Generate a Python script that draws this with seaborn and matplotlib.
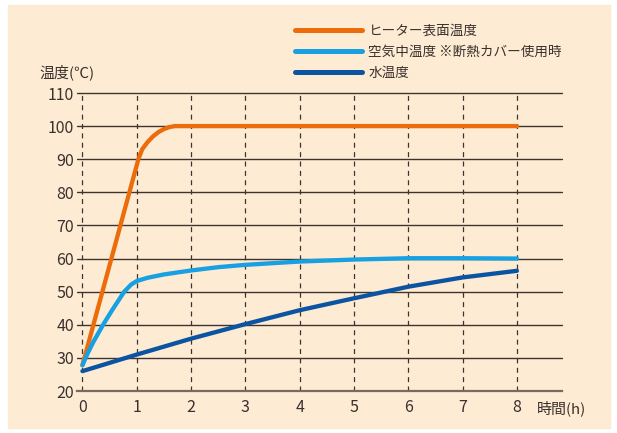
import matplotlib
import numpy as np
import pandas as pd
import matplotlib.pyplot as plt
import seaborn as sns
from matplotlib.patches import Rectangle

matplotlib.use('Agg')

# data
heater_x = [0, 1.03, 1.1, 1.2, 1.3, 1.4, 1.5, 1.6, 1.7, 8]
heater_y = [27.8, 90, 93.0, 95.2, 96.9, 98.2, 99.1, 99.7, 100, 100]
air_x = [0, 0.1, 0.2, 0.38, 0.55, 0.77, 0.9, 1.0, 1.2, 1.5, 2, 2.5, 3, 4, 5, 6, 7, 8]
air_y = [27.8, 31.5, 34.8, 40, 44.5, 50, 52.2, 53.2, 54.2, 55.2, 56.4, 57.4, 58.1, 59.1, 59.7, 60.1, 60.1, 60]
water_x = [0, 1, 2, 3, 4, 5, 6, 7, 8]
water_y = [26, 31, 35.8, 40.2, 44.4, 48, 51.5, 54.3, 56.3]

labels = ['ヒーター表面温度', '空気中温度 ※断熱カバー使用時', '水温度']
colors = ['#ec6c0b', '#17a0e2', '#0b54a2']
x_ticks = [0, 1, 2, 3, 4, 5, 6, 7, 8]
y_ticks = [20, 30, 40, 50, 60, 70, 80, 90, 100, 110]

bg = '#fdebd4'
txt = '#3a302c'


def main():
    sns.set_style('white')
    plt.rcParams['font.family'] = ['Noto Sans CJK JP', 'DejaVu Sans']

    fig = plt.figure(figsize=(6.17, 4.33), dpi=100)
    fig.patch.set_facecolor('white')
    panel = Rectangle((8 / 617, 5 / 433), 602 / 617, 423 / 433,
                      transform=fig.transFigure, color=bg, zorder=-10)
    fig.add_artist(panel)
    ax = fig.add_axes([77 / 617, 1 - 391 / 433, (562 - 77) / 617, (391 - 93) / 433])
    ax.set_facecolor(bg)

    frames = []
    for xs, ys, name in [(heater_x, heater_y, labels[0]),
                         (air_x, air_y, labels[1]),
                         (water_x, water_y, labels[2])]:
        frames.append(pd.DataFrame({'time': xs, 'temp': ys, 'series': name}))
    df = pd.concat(frames, ignore_index=True)

    sns.lineplot(df, x='time', y='temp', hue='series', palette=colors,
                 hue_order=labels, linewidth=3.1, ax=ax, zorder=5, sort=False)

    ax.set_xlim(-0.1, 8.83)
    ax.set_ylim(20, 110)
    ax.set_xticks(x_ticks)
    ax.set_yticks(y_ticks)
    ax.set_xlabel('')
    ax.set_ylabel('')

    # grid lines
    for y in y_ticks[1:]:
        ax.axhline(y, color='#3e342f', lw=1.0, zorder=2, clip_on=False)
    for x in x_ticks:
        ax.plot([x, x], [20, 110], color='#3e342f', lw=0.9, ls=(0, (4, 3.5)), zorder=2)
    for s in ['top', 'right', 'left']:
        ax.spines[s].set_visible(False)
    ax.spines['bottom'].set_color('#7a6b60')
    ax.spines['bottom'].set_linewidth(1.6)

    ax.tick_params(axis='both', length=0, labelsize=11.5, colors=txt)
    ax.tick_params(axis='y', pad=2)
    ax.tick_params(axis='x', pad=6)

    fig.text(537 / 617, 1 - 408 / 433, '時間(h)', fontsize=10.8, color=txt,
             va='center', ha='left')
    fig.text(39 / 617, 1 - 72 / 433, '温度(℃)', fontsize=10.8, color=txt,
             va='center', ha='left')

    leg = ax.legend(loc='upper left', bbox_to_anchor=(295 / 617, 1 - 24 / 433),
                    bbox_transform=fig.transFigure, frameon=False, fontsize=9.8,
                    handlelength=4.9, handletextpad=0.5, labelspacing=0.5,
                    borderpad=0, borderaxespad=0)
    for t in leg.get_texts():
        t.set_color(txt)
    for line in leg.get_lines():
        line.set_linewidth(3.6)

    fig.savefig('out.png', dpi=100, facecolor='white')


if __name__ == '__main__':
    main()
